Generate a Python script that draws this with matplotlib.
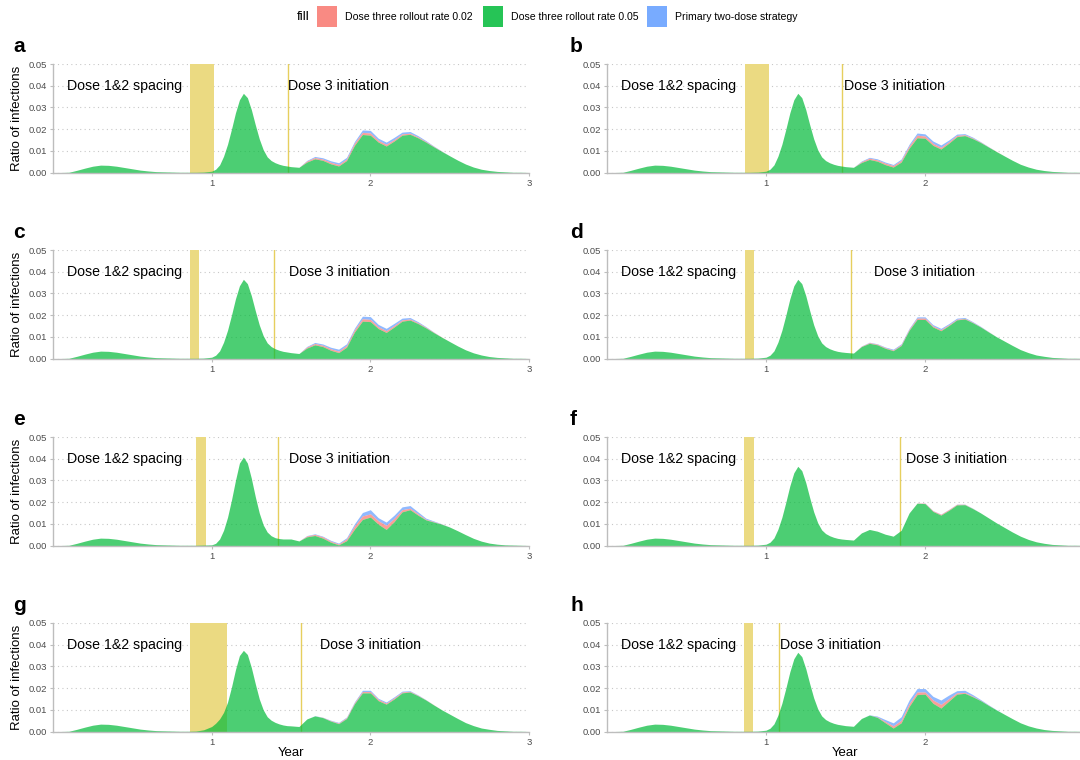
import numpy as np
import matplotlib
matplotlib.use("Agg")
import matplotlib.pyplot as plt
from matplotlib.patches import Rectangle

plt.rcParams['font.family'] = ['Liberation Sans', 'DejaVu Sans']

# ---------------------------------------------------------------- data
# x grids (years): early wave, main peak (finer), later waves
year_early = np.round(np.arange(0.0, 0.951, 0.05), 3)
year_peak = np.round(np.arange(1.0, 1.4751, 0.025), 3)
year_late = np.round(np.arange(1.5, 3.0001, 0.05), 3)
# the dose-three strategies differ only between 1.55 and 2.50 (year_late[1:21])

panel_labels = ["a", "b", "c", "d", "e", "f", "g", "h"]
series_names = ["Dose three rollout rate 0.02", "Dose three rollout rate 0.05",
                "Primary two-dose strategy"]

# first wave, identical in every scenario
early_std = [0, 0, 0.0001, 0.0010, 0.0020, 0.0029, 0.0034, 0.0033, 0.0029, 0.0023,
             0.0017, 0.0011, 0.0007, 0.0004, 0.0003, 0.0002, 0.0001, 0.0001, 0.0001, 0.0002]
early_g = [0, 0, 0.0001, 0.0010, 0.0020, 0.0029, 0.0034, 0.0033, 0.0029, 0.0023,
           0.0017, 0.0011, 0.0007, 0.0004, 0.0003, 0.0002, 0.0001, 0.0001, 0.0002, 0.0008]

# main peak
peak_std = [0.0006, 0.0015, 0.0035, 0.0075, 0.0130, 0.0200, 0.0275, 0.0335, 0.0365, 0.0345,
            0.0290, 0.0220, 0.0155, 0.0105, 0.0072, 0.0055, 0.0045, 0.0038, 0.0033, 0.0030]
peak_e = [0.0003, 0.0010, 0.0030, 0.0070, 0.0130, 0.0210, 0.0300, 0.0380, 0.0408, 0.0380,
          0.0310, 0.0225, 0.0150, 0.0095, 0.0062, 0.0045, 0.0036, 0.0032, 0.0030, 0.0030]
peak_g = [0.0023, 0.0038, 0.0058, 0.0088, 0.0135, 0.0205, 0.0285, 0.0350, 0.0374, 0.0355,
          0.0295, 0.0220, 0.0150, 0.0100, 0.0068, 0.0052, 0.0042, 0.0035, 0.0030, 0.0027]

# later waves: rate 0.05 (green) over year_late, rate 0.02 (red) and
# primary two-dose (blue) over year_late[1:21]
green_a = [0.0027, 0.0024, 0.0048, 0.0063, 0.0056, 0.0040, 0.0030, 0.0055, 0.0125, 0.0175, 0.0172,
           0.0140, 0.0122, 0.0145, 0.0172, 0.0176, 0.0160, 0.0140, 0.0118, 0.0097, 0.0077,
           0.0057, 0.0039, 0.0025, 0.0015, 0.0009, 0.0005, 0.0003, 0.0001, 0.0001, 0.0]
red_a = [0.0024, 0.0053, 0.0069, 0.0062, 0.0047, 0.0037, 0.0062, 0.0135, 0.0185, 0.0182,
         0.0148, 0.0130, 0.0152, 0.0178, 0.0181, 0.0164, 0.0143, 0.0120, 0.0098, 0.0077]
blue_a = [0.0024, 0.0056, 0.0074, 0.0068, 0.0054, 0.0045, 0.0070, 0.0143, 0.0196, 0.0194,
          0.0158, 0.0140, 0.0162, 0.0186, 0.0189, 0.0170, 0.0147, 0.0122, 0.0099, 0.0077]

green_b = [0.0027, 0.0024, 0.0046, 0.0060, 0.0052, 0.0036, 0.0025, 0.0048, 0.0112, 0.0160, 0.0158,
           0.0125, 0.0108, 0.0135, 0.0165, 0.0170, 0.0156, 0.0138, 0.0117, 0.0096, 0.0076,
           0.0056, 0.0038, 0.0025, 0.0015, 0.0009, 0.0005, 0.0003, 0.0001, 0.0001, 0.0]
red_b = [0.0024, 0.0050, 0.0066, 0.0058, 0.0043, 0.0032, 0.0056, 0.0122, 0.0172, 0.0168,
         0.0134, 0.0116, 0.0142, 0.0171, 0.0174, 0.0159, 0.0140, 0.0118, 0.0097, 0.0076]
blue_b = [0.0024, 0.0053, 0.0070, 0.0063, 0.0048, 0.0037, 0.0062, 0.0130, 0.0182, 0.0178,
          0.0145, 0.0127, 0.0150, 0.0177, 0.0179, 0.0163, 0.0142, 0.0119, 0.0097, 0.0076]

green_c = [0.0027, 0.0023, 0.0048, 0.0063, 0.0055, 0.0038, 0.0027, 0.0052, 0.0122, 0.0172, 0.0170,
           0.0138, 0.0120, 0.0145, 0.0172, 0.0177, 0.0161, 0.0141, 0.0119, 0.0098, 0.0078,
           0.0058, 0.0040, 0.0026, 0.0016, 0.0009, 0.0005, 0.0003, 0.0001, 0.0001, 0.0]
red_c = [0.0023, 0.0053, 0.0069, 0.0061, 0.0045, 0.0034, 0.0060, 0.0132, 0.0183, 0.0180,
         0.0146, 0.0128, 0.0152, 0.0178, 0.0182, 0.0165, 0.0144, 0.0121, 0.0099, 0.0078]
blue_c = [0.0023, 0.0056, 0.0074, 0.0067, 0.0052, 0.0043, 0.0068, 0.0140, 0.0195, 0.0193,
          0.0157, 0.0139, 0.0162, 0.0186, 0.0189, 0.0170, 0.0147, 0.0122, 0.0099, 0.0078]

green_d = [0.0028, 0.0025, 0.0055, 0.0070, 0.0063, 0.0047, 0.0036, 0.0060, 0.0130, 0.0180, 0.0180,
           0.0145, 0.0128, 0.0152, 0.0178, 0.0182, 0.0165, 0.0145, 0.0122, 0.0100, 0.0080,
           0.0060, 0.0041, 0.0027, 0.0016, 0.0010, 0.0005, 0.0003, 0.0001, 0.0001, 0.0]
red_d = [0.0025, 0.0057, 0.0073, 0.0066, 0.0050, 0.0039, 0.0064, 0.0135, 0.0186, 0.0186,
         0.0150, 0.0133, 0.0156, 0.0181, 0.0185, 0.0167, 0.0146, 0.0123, 0.0100, 0.0080]
blue_d = [0.0025, 0.0058, 0.0075, 0.0068, 0.0053, 0.0043, 0.0068, 0.0139, 0.0192, 0.0192,
          0.0156, 0.0139, 0.0161, 0.0186, 0.0189, 0.0170, 0.0148, 0.0124, 0.0100, 0.0080]

green_e = [0.0030, 0.0021, 0.0040, 0.0046, 0.0034, 0.0015, 0.0003, 0.0022, 0.0075, 0.0120, 0.0131,
           0.0098, 0.0074, 0.0110, 0.0155, 0.0165, 0.0140, 0.0118, 0.0108, 0.0098, 0.0085,
           0.0068, 0.0050, 0.0033, 0.0020, 0.0011, 0.0006, 0.0003, 0.0002, 0.0001, 0.0]
red_e = [0.0021, 0.0044, 0.0051, 0.0040, 0.0020, 0.0007, 0.0030, 0.0090, 0.0136, 0.0146,
         0.0114, 0.0093, 0.0125, 0.0165, 0.0172, 0.0146, 0.0121, 0.0110, 0.0099, 0.0085]
blue_e = [0.0021, 0.0046, 0.0054, 0.0043, 0.0024, 0.0011, 0.0036, 0.0100, 0.0152, 0.0165,
          0.0128, 0.0108, 0.0140, 0.0178, 0.0184, 0.0155, 0.0126, 0.0113, 0.0100, 0.0085]

green_f = [0.0028, 0.0025, 0.0058, 0.0074, 0.0066, 0.0052, 0.0043, 0.0070, 0.0150, 0.0195, 0.0193,
           0.0157, 0.0140, 0.0162, 0.0187, 0.0188, 0.0170, 0.0150, 0.0127, 0.0104, 0.0083,
           0.0062, 0.0043, 0.0028, 0.0017, 0.0010, 0.0005, 0.0003, 0.0001, 0.0001, 0.0]
red_f = [0.0025, 0.0058, 0.0074, 0.0066, 0.0052, 0.0043, 0.0070, 0.0150, 0.0196, 0.0195,
         0.0160, 0.0144, 0.0166, 0.0190, 0.0190, 0.0171, 0.0150, 0.0127, 0.0104, 0.0083]
blue_f = [0.0025, 0.0058, 0.0074, 0.0066, 0.0052, 0.0043, 0.0070, 0.0150, 0.0196, 0.0196,
          0.0161, 0.0145, 0.0167, 0.0191, 0.0191, 0.0172, 0.0150, 0.0127, 0.0104, 0.0083]

green_g = [0.0026, 0.0023, 0.0058, 0.0072, 0.0064, 0.0048, 0.0036, 0.0060, 0.0128, 0.0178, 0.0178,
           0.0142, 0.0126, 0.0150, 0.0178, 0.0182, 0.0165, 0.0145, 0.0122, 0.0100, 0.0080,
           0.0060, 0.0041, 0.0027, 0.0016, 0.0010, 0.0005, 0.0003, 0.0001, 0.0001, 0.0]
red_g = [0.0023, 0.0058, 0.0072, 0.0065, 0.0050, 0.0039, 0.0064, 0.0133, 0.0184, 0.0184,
         0.0148, 0.0131, 0.0155, 0.0182, 0.0185, 0.0167, 0.0146, 0.0123, 0.0100, 0.0080]
blue_g = [0.0023, 0.0058, 0.0073, 0.0066, 0.0052, 0.0042, 0.0067, 0.0137, 0.0190, 0.0190,
          0.0153, 0.0136, 0.0160, 0.0186, 0.0188, 0.0169, 0.0147, 0.0123, 0.0100, 0.0080]

green_h = [0.0027, 0.0024, 0.0060, 0.0076, 0.0065, 0.0040, 0.0016, 0.0040, 0.0115, 0.0170, 0.0172,
           0.0130, 0.0108, 0.0140, 0.0172, 0.0176, 0.0160, 0.0142, 0.0120, 0.0099, 0.0079,
           0.0059, 0.0040, 0.0026, 0.0016, 0.0009, 0.0005, 0.0003, 0.0001, 0.0001, 0.0]
red_h = [0.0024, 0.0060, 0.0076, 0.0067, 0.0046, 0.0026, 0.0052, 0.0128, 0.0182, 0.0182,
         0.0145, 0.0125, 0.0152, 0.0178, 0.0180, 0.0163, 0.0143, 0.0121, 0.0099, 0.0079]
blue_h = [0.0024, 0.0060, 0.0077, 0.0071, 0.0055, 0.0040, 0.0068, 0.0145, 0.0198, 0.0198,
          0.0162, 0.0145, 0.0168, 0.0188, 0.0190, 0.0170, 0.0147, 0.0123, 0.0100, 0.0079]

early_by_panel = [early_std, early_std, early_std, early_std, early_std, early_std, early_g, early_std]
peak_by_panel = [peak_std, peak_std, peak_std, peak_std, peak_e, peak_std, peak_g, peak_std]
green_by_panel = [green_a, green_b, green_c, green_d, green_e, green_f, green_g, green_h]
red_by_panel = [red_a, red_b, red_c, red_d, red_e, red_f, red_g, red_h]
blue_by_panel = [blue_a, blue_b, blue_c, blue_d, blue_e, blue_f, blue_g, blue_h]

# dose 1&2 spacing window and dose 3 start (years)
spacing_start = [0.862, 0.865, 0.862, 0.865, 0.900, 0.863, 0.862, 0.860]
spacing_end = [1.014, 1.020, 0.920, 0.923, 0.962, 0.923, 1.094, 0.920]
dose3_start = [1.48, 1.48, 1.39, 1.535, 1.42, 1.845, 1.56, 1.08]
dose3_text_x = [1.483, 1.49, 1.49, 1.68, 1.487, 1.88, 1.68, 1.085]

x_ticks = [1, 2, 3]
x_tick_labels = ["1", "2", "3"]
y_ticks = [0, 0.01, 0.02, 0.03, 0.04, 0.05]
y_tick_labels = ["0.00", "0.01", "0.02", "0.03", "0.04", "0.05"]

# ---------------------------------------------------------------- style
W, H = 1080, 760
GREEN, RED, BLUE = "#00BA38", "#F8766D", "#619CFF"
ALPHA = 0.7
SPAN_COLOR = "#EBDA82"
LINE_COLOR = "#E6CF5E"
AXIS_GREY = "#BDBDBD"
TICK_TEXT = "#4D4D4D"

# panel boxes in pixels; the right column runs past the figure edge
col_x = [(53, 529), (607, 1084)]
row_top = [64, 250, 437, 623]
ax_h = 108.5

fig = plt.figure(figsize=(W / 100, H / 100), dpi=100)


def px_axes(x0, x1, top):
    return fig.add_axes([x0 / W, 1 - (top + ax_h) / H, (x1 - x0) / W, ax_h / H])


x_all = np.concatenate([year_early, year_peak, year_late])
n_before_late = len(year_early) + len(year_peak)

for i, lab in enumerate(panel_labels):
    row, col = divmod(i, 2)
    x0, x1 = col_x[col]
    top = row_top[row]
    ax = px_axes(x0, x1, top)

    green = np.concatenate([early_by_panel[i], peak_by_panel[i], green_by_panel[i]])
    red = green.copy()
    blue = green.copy()
    seg = slice(n_before_late + 1, n_before_late + 21)
    red[seg] = np.maximum(red_by_panel[i], green[seg])
    blue[seg] = np.maximum(blue_by_panel[i], red[seg])

    ax.axvspan(spacing_start[i], spacing_end[i], color=SPAN_COLOR, lw=0, zorder=1)
    ax.axvline(dose3_start[i], color=LINE_COLOR, lw=1.0, zorder=1)

    ax.fill_between(x_all, red, blue, color=BLUE, alpha=ALPHA, lw=0, zorder=2)
    ax.fill_between(x_all, green, red, color=RED, alpha=ALPHA, lw=0, zorder=2)
    ax.fill_between(x_all, 0, green, color=GREEN, alpha=ALPHA, lw=0, zorder=2)

    ax.set_xlim(0, 3)
    ax.set_ylim(0, 0.05)
    if col == 0:
        ax.set_xticks(x_ticks)
        ax.set_xticklabels(x_tick_labels)
    else:
        # the year-3 tick of the right column falls beyond the figure edge
        ax.set_xticks(x_ticks[:2])
        ax.set_xticklabels(x_tick_labels[:2])
    ax.set_yticks(y_ticks)
    ax.set_yticklabels(y_tick_labels)
    ax.tick_params(axis="both", labelsize=6.8, labelcolor=TICK_TEXT, color=AXIS_GREY,
                   length=2.5, width=0.8, pad=2)
    ax.yaxis.grid(True, linestyle=(0, (1, 3)), color="#C8C8C8", lw=0.8)
    ax.set_axisbelow(True)
    for side in ("top", "right"):
        ax.spines[side].set_visible(False)
    for side in ("left", "bottom"):
        ax.spines[side].set_color(AXIS_GREY)
        ax.spines[side].set_linewidth(1.0)
    ax.set_facecolor("white")

    ax.text(0.09, 0.04, "Dose 1&2 spacing", fontsize=10.2, ha="left", va="center", zorder=3)
    ax.text(dose3_text_x[i], 0.04, "Dose 3 initiation", fontsize=10.2, ha="left",
            va="center", zorder=3)

    # panel letter
    fig.text((13 if col == 0 else 570) / W, 1 - (top - 12) / H, lab,
             fontsize=15, fontweight="bold", ha="left", va="baseline")

    if col == 0:
        fig.text(17 / W, 1 - (top + ax_h / 2) / H, "Ratio of infections", rotation=90,
                 fontsize=9.5, ha="center", va="center")
    if row == 3:
        fig.text(((x0 + x1) / 2) / W, 1 - 753 / H, "Year", fontsize=9.5,
                 ha="center", va="center")

# legend across the top
fig.text(297 / W, 1 - 17 / H, "fill", fontsize=9.5, ha="left", va="center")
legend_items = [(317, RED, series_names[0]), (483, GREEN, series_names[1]),
                (647, BLUE, series_names[2])]
for px, colr, name in legend_items:
    fig.patches.append(Rectangle((px / W, 1 - 27 / H), 20 / W, 21 / H,
                                 transform=fig.transFigure, facecolor=colr,
                                 alpha=0.85, lw=0))
    fig.text((px + 28) / W, 1 - 17 / H, name, fontsize=7.6, ha="left", va="center")

fig.savefig("out.png", dpi=100, facecolor="white")
